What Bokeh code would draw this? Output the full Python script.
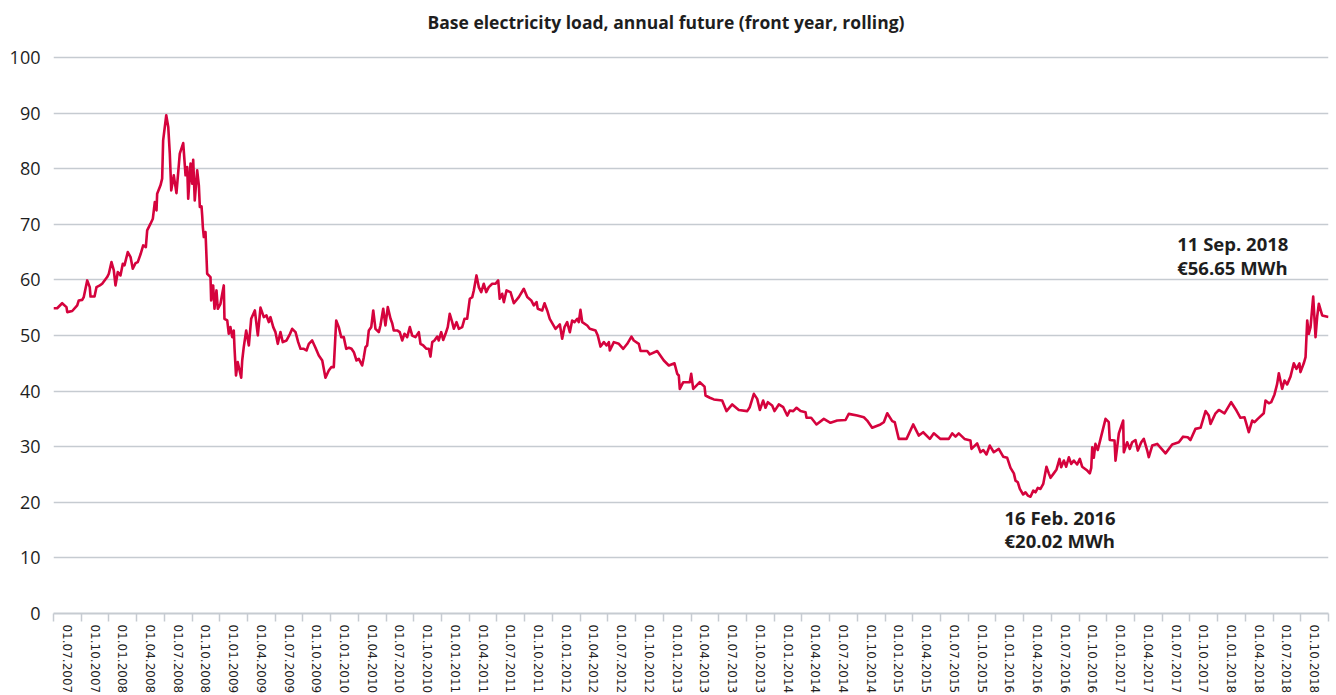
import numpy as np
from bokeh.plotting import figure
from bokeh.models import Range1d, FixedTicker, Label
from bokeh.embed import file_html
from bokeh.resources import INLINE

# time axis position (decimal years from 01.07.2007) and front-year base price (EUR/MWh)
t = [
    2007.500, 2007.533, 2007.578, 2007.617, 2007.624, 2007.669, 2007.714, 2007.728, 2007.759, 2007.773,
    2007.804, 2007.827, 2007.834, 2007.870, 2007.888, 2007.918, 2007.939, 2007.984, 2007.999, 2008.023,
    2008.044, 2008.059, 2008.080, 2008.104, 2008.125, 2008.140, 2008.170, 2008.195, 2008.215, 2008.240,
    2008.260, 2008.285, 2008.309, 2008.333, 2008.345, 2008.375, 2008.396, 2008.414, 2008.429, 2008.435,
    2008.465, 2008.480, 2008.489, 2008.517, 2008.535, 2008.549, 2008.562, 2008.585, 2008.609, 2008.639,
    2008.670, 2008.691, 2008.706, 2008.715, 2008.736, 2008.751, 2008.760, 2008.774, 2008.796, 2008.811,
    2008.820, 2008.835, 2008.841, 2008.847, 2008.856, 2008.871, 2008.886, 2008.916, 2008.922, 2008.940,
    2008.952, 2008.970, 2008.982, 2009.006, 2009.022, 2009.036, 2009.042, 2009.067, 2009.081, 2009.096,
    2009.112, 2009.126, 2009.133, 2009.146, 2009.162, 2009.193, 2009.202, 2009.216, 2009.238, 2009.262,
    2009.283, 2009.316, 2009.343, 2009.367, 2009.397, 2009.421, 2009.442, 2009.457, 2009.482, 2009.502,
    2009.523, 2009.547, 2009.568, 2009.602, 2009.631, 2009.653, 2009.683, 2009.707, 2009.728, 2009.758,
    2009.782, 2009.803, 2009.833, 2009.863, 2009.893, 2009.924, 2009.953, 2009.983, 2010.005, 2010.028,
    2010.050, 2010.073, 2010.095, 2010.118, 2010.140, 2010.164, 2010.188, 2010.209, 2010.233, 2010.254,
    2010.284, 2010.299, 2010.314, 2010.329, 2010.344, 2010.366, 2010.384, 2010.404, 2010.434, 2010.449,
    2010.474, 2010.494, 2010.515, 2010.540, 2010.555, 2010.569, 2010.600, 2010.623, 2010.645, 2010.666,
    2010.690, 2010.714, 2010.735, 2010.765, 2010.795, 2010.810, 2010.835, 2010.864, 2010.885, 2010.900,
    2010.916, 2010.936, 2010.961, 2010.975, 2010.997, 2011.015, 2011.036, 2011.056, 2011.074, 2011.096,
    2011.111, 2011.135, 2011.156, 2011.186, 2011.207, 2011.231, 2011.255, 2011.277, 2011.291, 2011.315,
    2011.336, 2011.358, 2011.381, 2011.403, 2011.426, 2011.457, 2011.487, 2011.511, 2011.525, 2011.547,
    2011.562, 2011.586, 2011.622, 2011.652, 2011.697, 2011.742, 2011.773, 2011.809, 2011.832, 2011.857,
    2011.868, 2011.908, 2011.929, 2011.953, 2011.976, 2012.028, 2012.067, 2012.088, 2012.109, 2012.133,
    2012.157, 2012.178, 2012.199, 2012.224, 2012.238, 2012.253, 2012.269, 2012.314, 2012.337, 2012.389,
    2012.409, 2012.434, 2012.464, 2012.488, 2012.509, 2012.518, 2012.554, 2012.599, 2012.639, 2012.675,
    2012.713, 2012.734, 2012.779, 2012.795, 2012.855, 2012.878, 2012.945, 2013.005, 2013.050, 2013.101,
    2013.126, 2013.140, 2013.149, 2013.180, 2013.239, 2013.252, 2013.270, 2013.329, 2013.372, 2013.381,
    2013.420, 2013.456, 2013.531, 2013.570, 2013.622, 2013.681, 2013.757, 2013.780, 2013.817, 2013.847,
    2013.871, 2013.901, 2013.922, 2013.943, 2013.982, 2014.003, 2014.042, 2014.082, 2014.118, 2014.141,
    2014.172, 2014.202, 2014.238, 2014.283, 2014.292, 2014.334, 2014.382, 2014.448, 2014.508, 2014.569,
    2014.644, 2014.673, 2014.749, 2014.809, 2014.839, 2014.884, 2014.959, 2014.989, 2015.020, 2015.065,
    2015.088, 2015.124, 2015.194, 2015.254, 2015.305, 2015.344, 2015.404, 2015.440, 2015.500, 2015.575,
    2015.606, 2015.636, 2015.665, 2015.717, 2015.771, 2015.780, 2015.831, 2015.861, 2015.886, 2015.915,
    2015.945, 2015.981, 2016.026, 2016.066, 2016.102, 2016.132, 2016.162, 2016.177, 2016.198, 2016.216,
    2016.246, 2016.267, 2016.288, 2016.312, 2016.337, 2016.357, 2016.378, 2016.402, 2016.427, 2016.456,
    2016.477, 2016.493, 2016.522, 2016.547, 2016.574, 2016.589, 2016.613, 2016.634, 2016.658, 2016.679,
    2016.703, 2016.733, 2016.757, 2016.778, 2016.824, 2016.847, 2016.860, 2016.869, 2016.883, 2016.898,
    2016.919, 2016.944, 2016.989, 2017.018, 2017.027, 2017.070, 2017.079, 2017.109, 2017.148, 2017.154,
    2017.184, 2017.208, 2017.229, 2017.259, 2017.280, 2017.311, 2017.334, 2017.365, 2017.379, 2017.410,
    2017.455, 2017.530, 2017.590, 2017.650, 2017.689, 2017.731, 2017.755, 2017.800, 2017.846, 2017.891,
    2017.920, 2017.936, 2017.981, 2018.011, 2018.062, 2018.122, 2018.170, 2018.206, 2018.242, 2018.281,
    2018.312, 2018.333, 2018.362, 2018.416, 2018.432, 2018.462, 2018.483, 2018.513, 2018.537, 2018.552,
    2018.582, 2018.603, 2018.627, 2018.657, 2018.687, 2018.711, 2018.738, 2018.747, 2018.777, 2018.793,
    2018.808, 2018.822, 2018.838, 2018.862, 2018.883, 2018.898, 2018.913, 2018.943, 2019.000,
]

price = [
    54.9, 54.9, 55.8, 55.1, 54.2, 54.4, 55.4, 56.3, 56.4, 56.9,
    59.9, 58.7, 57.0, 57.0, 58.7, 59.0, 59.3, 60.5, 61.1, 63.2,
    61.7, 59.0, 61.4, 60.8, 62.9, 62.6, 65.0, 64.1, 62.0, 63.0,
    63.2, 64.6, 66.2, 65.9, 68.9, 70.1, 71.0, 74.0, 72.5, 75.5,
    77.0, 78.2, 85.1, 89.6, 87.5, 82.7, 76.1, 78.8, 75.6, 82.7,
    84.6, 78.8, 80.3, 74.6, 80.9, 77.3, 81.6, 74.3, 79.7, 77.0,
    73.1, 73.2, 71.6, 69.5, 67.7, 68.6, 61.1, 60.5, 56.3, 59.0,
    54.8, 58.1, 54.8, 55.7, 57.5, 59.0, 53.0, 52.7, 50.3, 51.5,
    49.7, 50.9, 47.6, 42.8, 45.2, 42.4, 45.5, 47.9, 50.9, 48.2,
    53.0, 54.5, 50.0, 55.0, 53.3, 53.6, 52.4, 53.3, 51.5, 50.6,
    48.5, 50.6, 48.8, 49.1, 50.2, 51.2, 50.6, 48.8, 47.6, 47.6,
    47.3, 48.5, 49.1, 47.8, 46.4, 45.5, 42.4, 43.7, 44.3, 44.3,
    52.7, 51.5, 49.7, 49.7, 47.6, 47.8, 47.6, 47.0, 45.5, 45.8,
    44.6, 46.1, 47.9, 48.2, 50.9, 51.5, 54.5, 51.2, 50.6, 51.8,
    54.8, 51.8, 55.1, 53.0, 52.2, 50.9, 50.9, 50.6, 49.1, 50.3,
    49.7, 51.5, 50.0, 49.7, 50.6, 48.5, 48.2, 47.6, 47.6, 46.2,
    48.8, 49.1, 49.8, 49.1, 50.6, 49.2, 50.3, 51.5, 53.9, 52.4,
    51.2, 52.4, 51.2, 51.5, 53.0, 53.0, 56.6, 56.9, 58.1, 60.8,
    58.7, 57.8, 59.3, 57.8, 58.7, 59.3, 59.3, 59.9, 56.6, 57.5,
    56.0, 58.1, 57.8, 55.8, 56.9, 58.4, 56.9, 56.3, 55.4, 56.0,
    54.8, 54.5, 55.8, 54.5, 53.0, 51.2, 52.0, 49.4, 51.5, 52.4,
    50.6, 52.7, 52.4, 53.0, 52.4, 54.6, 52.4, 51.8, 51.2, 50.9,
    50.0, 48.0, 48.8, 48.2, 48.8, 47.3, 48.8, 48.5, 47.6, 48.5,
    49.8, 49.1, 48.5, 47.2, 47.2, 46.6, 47.2, 45.5, 44.6, 45.0,
    43.1, 42.8, 40.4, 41.6, 41.6, 43.1, 40.4, 41.6, 40.8, 39.2,
    38.8, 38.5, 38.3, 36.4, 37.6, 36.6, 36.4, 37.1, 39.5, 38.6,
    36.6, 38.3, 37.0, 38.0, 37.4, 36.4, 37.6, 37.1, 35.6, 36.5,
    36.4, 37.0, 36.4, 36.2, 35.2, 35.2, 34.0, 35.0, 34.3, 34.7,
    34.8, 35.9, 35.6, 35.3, 34.7, 33.4, 34.0, 34.4, 36.0, 34.6,
    34.4, 31.4, 31.4, 34.0, 32.0, 32.6, 31.4, 32.4, 31.4, 31.4,
    32.4, 31.8, 32.4, 31.4, 31.1, 29.6, 30.6, 29.0, 29.4, 28.6,
    30.2, 29.0, 29.6, 28.2, 28.0, 26.2, 25.2, 23.9, 23.6, 22.4,
    21.4, 21.8, 21.2, 21.0, 22.1, 21.8, 22.6, 22.4, 23.3, 26.4,
    25.2, 24.4, 25.2, 25.9, 27.8, 26.3, 27.5, 26.4, 28.1, 26.9,
    27.5, 26.8, 27.8, 26.4, 25.7, 25.2, 26.2, 29.9, 28.0, 30.5,
    29.4, 31.4, 35.0, 34.4, 31.2, 31.1, 27.5, 32.4, 34.7, 29.0,
    30.8, 29.6, 30.8, 31.2, 29.3, 30.8, 31.4, 29.3, 28.1, 30.2,
    30.5, 28.8, 30.4, 30.8, 31.8, 31.7, 31.2, 33.2, 33.4, 36.4,
    35.6, 34.1, 36.0, 36.6, 36.0, 38.0, 36.5, 35.2, 35.3, 32.6,
    34.7, 34.4, 35.0, 36.0, 38.3, 37.8, 38.0, 39.4, 41.3, 43.2,
    40.4, 41.9, 41.2, 42.6, 45.0, 44.0, 45.0, 43.4, 45.0, 46.1,
    52.7, 50.3, 51.5, 57.0, 49.7, 53.4, 55.7, 53.6, 53.3,
]

tick_labels = [
    "01.07.2007", "01.10.2007",
    "01.01.2008", "01.04.2008", "01.07.2008", "01.10.2008",
    "01.01.2009", "01.04.2009", "01.07.2009", "01.10.2009",
    "01.01.2010", "01.04.2010", "01.07.2010", "01.10.2010",
    "01.01.2011", "01.04.2011", "01.07.2011", "01.10.2011",
    "01.01.2012", "01.04.2012", "01.07.2012", "01.10.2012",
    "01.01.2013", "01.04.2013", "01.07.2013", "01.10.2013",
    "01.01.2014", "01.04.2014", "01.07.2014", "01.10.2014",
    "01.01.2015", "01.04.2015", "01.07.2015", "01.10.2015",
    "01.01.2016", "01.04.2016", "01.07.2016", "01.10.2016",
    "01.01.2017", "01.04.2017", "01.07.2017", "01.10.2017",
    "01.01.2018", "01.04.2018", "01.07.2018", "01.10.2018",
]
y_ticks = [0, 10, 20, 30, 40, 50, 60, 70, 80, 90, 100]

title_text = "Base electricity load, annual future (front year, rolling)"
low_note = ["16 Feb. 2016", "€20.02 MWh"]
high_note = ["11 Sep. 2018", "€56.65 MWh"]

RED = "#d5033d"
GRID = "#c6cbd1"
TXT = "#1e1e1e"

start = 2007.5
band = 0.25
bounds = [start + band * k for k in range(len(tick_labels) + 1)]
centers = [start + band * (k + 0.5) for k in range(len(tick_labels))]

# the plot area reaches above the 100 line so that the title sits inside it
p = figure(frame_width=1275, frame_height=605, output_backend="svg", toolbar_location=None,
           x_range=Range1d(bounds[0], bounds[-1]), y_range=Range1d(0, 108.8),
           min_border_left=53, min_border_right=2, min_border_top=8, min_border_bottom=0)
p.outline_line_color = None
p.background_fill_color = "white"
p.border_fill_color = "white"

# grid
p.xgrid.grid_line_color = None
p.ygrid.ticker = FixedTicker(ticks=y_ticks)
p.ygrid.grid_line_color = GRID
p.ygrid.grid_line_width = 1.6

# y axis
ya = p.yaxis[0]
ya.ticker = FixedTicker(ticks=y_ticks)
ya.axis_line_color = None
ya.major_tick_line_color = None
ya.minor_tick_line_color = None
ya.major_tick_out = 0
ya.major_label_standoff = 13
ya.major_label_text_font = "Open Sans"
ya.major_label_text_font_size = "18px"
ya.major_label_text_color = TXT

# x axis
xa = p.xaxis[0]
xa.ticker = FixedTicker(ticks=centers, minor_ticks=bounds)
xa.major_label_overrides = {c: lab for c, lab in zip(centers, tick_labels)}
xa.major_label_orientation = "vertical"
xa.axis_line_color = GRID
xa.axis_line_width = 2
xa.major_tick_line_color = None
xa.major_tick_out = 4
xa.major_tick_in = 0
xa.minor_tick_line_color = GRID
xa.minor_tick_line_width = 1.5
xa.minor_tick_out = 8
xa.minor_tick_in = 0
xa.major_label_standoff = 3
xa.major_label_text_font = "DejaVu Sans"
xa.major_label_text_font_size = "12px"
xa.major_label_text_color = TXT

p.line(t, price, line_color=RED, line_width=2.6, line_join="round")

# chart title
p.add_layout(Label(x=(bounds[0] + bounds[-1]) / 2, y=y_ticks[-1], x_offset=-25, y_offset=35,
                   text=title_text, text_align="center", text_baseline="middle",
                   text_font="Open Sans", text_font_style="bold",
                   text_font_size="17.5px", text_color=TXT))

ta = np.array(t)
pa = np.array(price)
i_lo = int(np.argmin(pa))
mask = ta > 2018.0
i_hi = int(np.where(mask)[0][np.argmax(pa[mask])])

for k, txt in enumerate(low_note):
    p.add_layout(Label(x=ta[i_lo], y=pa[i_lo], x_offset=-26, y_offset=-21 - 23 * k,
                       text=txt, text_align="left", text_baseline="middle",
                       text_font="Open Sans", text_font_style="bold",
                       text_font_size="18.5px", text_color=TXT))
for k, txt in enumerate(high_note):
    p.add_layout(Label(x=ta[i_hi], y=pa[i_hi], x_offset=-136, y_offset=53 - 24 * k,
                       text=txt, text_align="left", text_baseline="middle",
                       text_font="Open Sans", text_font_style="bold",
                       text_font_size="18.5px", text_color=TXT))

open("out.html", "w").write(file_html(p, INLINE))
